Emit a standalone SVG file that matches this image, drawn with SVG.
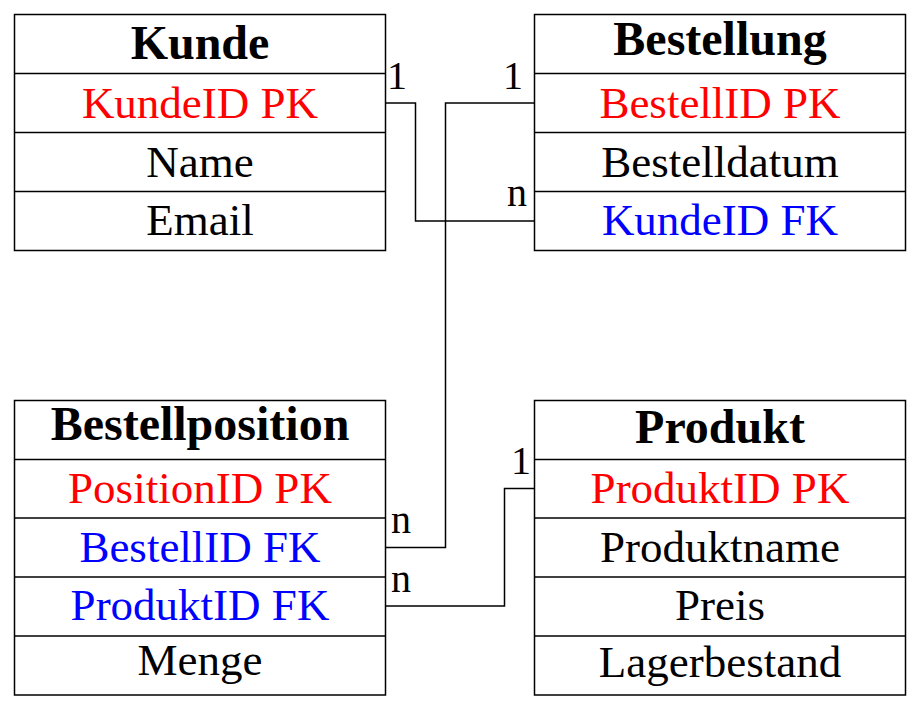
<svg xmlns="http://www.w3.org/2000/svg" width="920" height="710" viewBox="0 0 920 710">
<style>
  .box { fill: #ffffff; stroke: #000000; stroke-width: 1.5; }
  .sep { stroke: #000000; stroke-width: 1.5; }
  .t { font-family: "Liberation Serif", "Times New Roman", serif; font-size: 45px; text-anchor: middle; fill: #000000; }
  .h { font-weight: bold; font-size: 48px; }
  .pk { fill: #ff0000; }
  .fk { fill: #0000ff; }
  .conn { fill: none; stroke: #000000; stroke-width: 1.5; }
  .lbl { font-family: "Liberation Serif", "Times New Roman", serif; font-size: 40px; fill: #000000; }
</style>
<rect width="920" height="710" fill="#ffffff"/>
<g id="connectors">
  <path class="conn" d="M386,103 H415.5 V221 H534.5"/>
  <path class="conn" d="M534.5,103 H445.5 V547.5 H386"/>
  <path class="conn" d="M534.5,488.5 H504.5 V606 H386"/>
  <text class="lbl" x="387" y="89">1</text>
  <text class="lbl" x="503" y="89">1</text>
  <text class="lbl" x="507" y="206">n</text>
  <text class="lbl" x="391" y="533">n</text>
  <text class="lbl" x="391" y="592">n</text>
  <text class="lbl" x="511" y="474">1</text>
</g>
<g id="kunde">
  <rect class="box" x="14.5" y="14.5" width="371" height="236"/>
  <line class="sep" x1="14.5" y1="73.5" x2="385.5" y2="73.5"/>
  <line class="sep" x1="14.5" y1="132.5" x2="385.5" y2="132.5"/>
  <line class="sep" x1="14.5" y1="191.5" x2="385.5" y2="191.5"/>
  <text class="t h" x="200" y="59">Kunde</text>
  <text class="t pk" x="200" y="118">KundeID PK</text>
  <text class="t" x="200" y="177">Name</text>
  <text class="t" x="200" y="235">Email</text>
</g>
<g id="bestellung">
  <rect class="box" x="534.5" y="14.5" width="371" height="236"/>
  <line class="sep" x1="534.5" y1="73.5" x2="905.5" y2="73.5"/>
  <line class="sep" x1="534.5" y1="132.5" x2="905.5" y2="132.5"/>
  <line class="sep" x1="534.5" y1="191.5" x2="905.5" y2="191.5"/>
  <text class="t h" x="720" y="55">Bestellung</text>
  <text class="t pk" x="720" y="118">BestellID PK</text>
  <text class="t" x="720" y="177">Bestelldatum</text>
  <text class="t fk" x="720" y="235">KundeID FK</text>
</g>
<g id="bestellposition">
  <rect class="box" x="14.5" y="400.5" width="371" height="294.5"/>
  <line class="sep" x1="14.5" y1="459.5" x2="385.5" y2="459.5"/>
  <line class="sep" x1="14.5" y1="518" x2="385.5" y2="518"/>
  <line class="sep" x1="14.5" y1="577" x2="385.5" y2="577"/>
  <line class="sep" x1="14.5" y1="636" x2="385.5" y2="636"/>
  <text class="t h" x="200" y="440">Bestellposition</text>
  <text class="t pk" x="200" y="503">PositionID PK</text>
  <text class="t fk" x="200" y="562">BestellID FK</text>
  <text class="t fk" x="200" y="620">ProduktID FK</text>
  <text class="t" x="200" y="675">Menge</text>
</g>
<g id="produkt">
  <rect class="box" x="534.5" y="400.5" width="371" height="294.5"/>
  <line class="sep" x1="534.5" y1="459.5" x2="905.5" y2="459.5"/>
  <line class="sep" x1="534.5" y1="518" x2="905.5" y2="518"/>
  <line class="sep" x1="534.5" y1="577" x2="905.5" y2="577"/>
  <line class="sep" x1="534.5" y1="636" x2="905.5" y2="636"/>
  <text class="t h" x="720" y="443">Produkt</text>
  <text class="t pk" x="720" y="503">ProduktID PK</text>
  <text class="t" x="720" y="562">Produktname</text>
  <text class="t" x="720" y="620">Preis</text>
  <text class="t" x="720" y="677">Lagerbestand</text>
</g>
</svg>
